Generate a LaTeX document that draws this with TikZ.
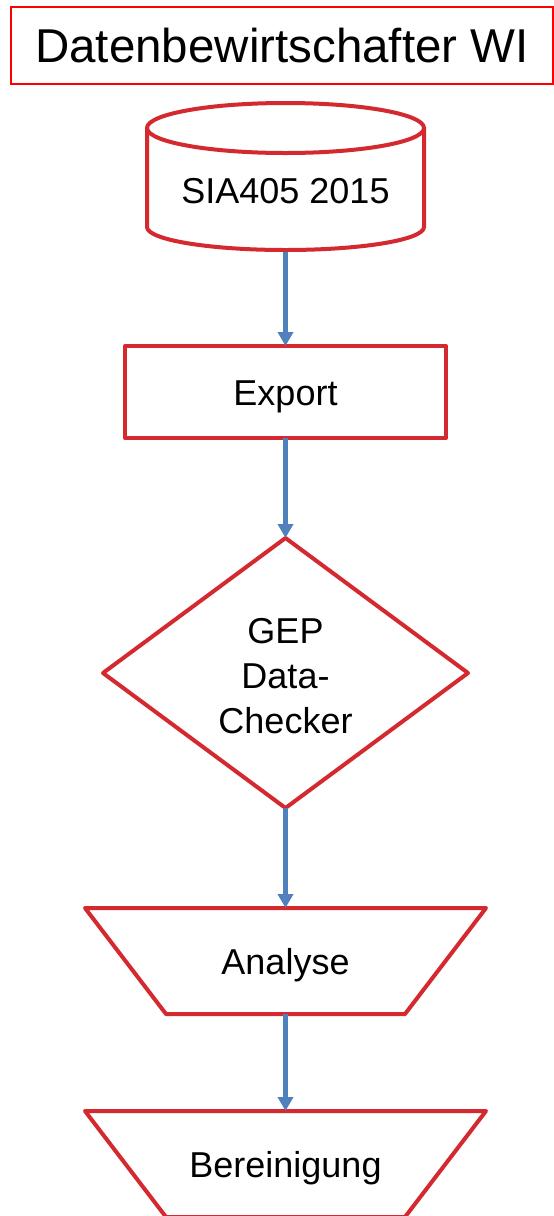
\documentclass[tikz,border=0pt]{standalone}
\usepackage{fontspec}
\setmainfont{Liberation Sans}
\usetikzlibrary{shapes.geometric,arrows.meta}
\definecolor{boxred}{RGB}{211,41,47}
\definecolor{titlered}{RGB}{255,0,0}
\definecolor{flowblue}{RGB}{79,129,189}
\begin{document}
\begin{tikzpicture}[x=1pt,y=1pt,
  shapeline/.style={draw=boxred, line width=4pt, line join=round},
  lbl/.style={font=\fontsize{36}{45}\selectfont, text height=26pt, text depth=0pt, align=center},
  flow/.style={draw=flowblue, line width=4.5pt, -{Triangle[width=15pt,length=14pt]}},
  trapbox/.style={lbl, minimum width=401pt, minimum height=106pt, inner sep=0pt, outer sep=0pt}
]
\useasboundingbox (0,0) rectangle (554,-1216);

% title
\node[draw=titlered, line width=1.5pt, minimum width=542pt, minimum height=77pt, inner sep=0pt,
  font=\fontsize{47.5}{56}\selectfont, text height=34pt, text depth=0pt] (title) at (282,-45.5) {Datenbewirtschafter WI};

% database cylinder
\draw[shapeline] (285.5,-128) ellipse [x radius=138.5pt, y radius=25pt];
\draw[shapeline] (147,-128) -- (147,-227) arc[start angle=180, end angle=360, x radius=138.5pt, y radius=23pt] -- (424,-128);
\node[lbl, minimum width=277pt, minimum height=124pt, inner sep=0pt, outer sep=0pt] (db) at (285.5,-190) {SIA405 2015};

% export
\node[shapeline, lbl, minimum width=321pt, minimum height=92pt, inner sep=0pt, outer sep=0pt] (export) at (285.5,-392) {Export};

% data checker
\node[shapeline, diamond, minimum width=365pt, minimum height=270pt, inner sep=0pt, outer sep=0pt] (chk) at (285.5,-673) {};
\node[font=\fontsize{36}{45}\selectfont, align=center, inner sep=0pt] (chktext) at (285.5,-676.5) {GEP\\Data-\\Checker};

% analyse / bereinigung
\node[trapbox] (analyse) at (285.5,-961) {Analyse};
\draw[shapeline] (analyse.north west) -- (analyse.north east) -- ([xshift=-81pt]analyse.south east) -- ([xshift=81pt]analyse.south west) -- cycle;
\node[trapbox] (bereinigung) at (285.5,-1164) {Bereinigung};
\draw[shapeline] (bereinigung.north west) -- (bereinigung.north east) -- ([xshift=-81pt]bereinigung.south east) -- ([xshift=81pt]bereinigung.south west) -- cycle;

% connectors
\draw[flow] (db.south) -- (export.north);
\draw[flow] (export.south) -- (chk.north);
\draw[flow] (chk.south) -- (analyse.north);
\draw[flow] (analyse.south) -- (bereinigung.north);
\end{tikzpicture}
\end{document}
